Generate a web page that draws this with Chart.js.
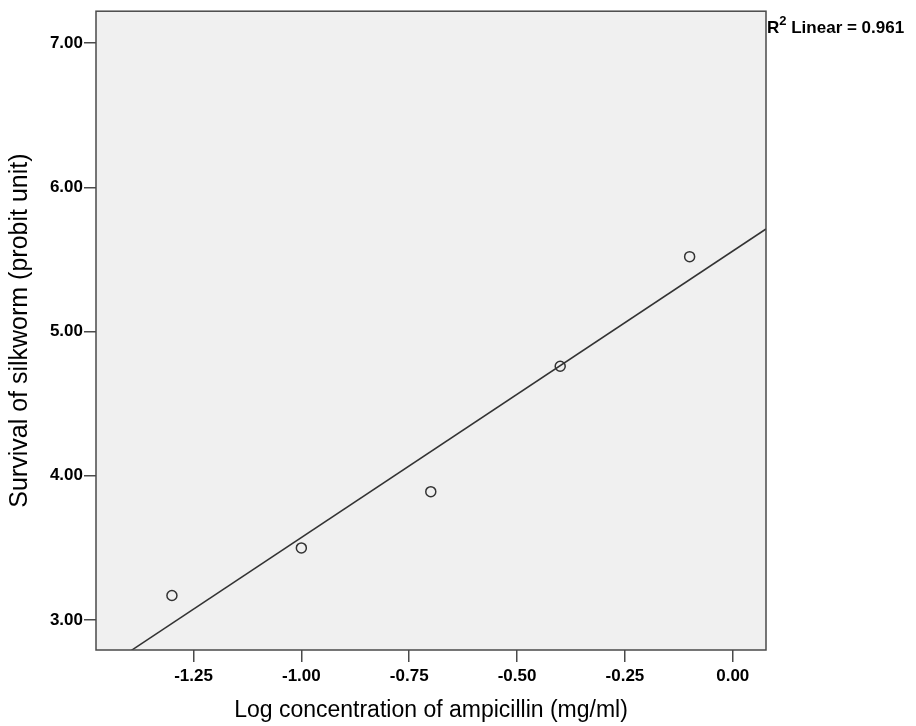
<!DOCTYPE html>
<html>
<head>
<meta charset="utf-8">
<script src="https://cdn.jsdelivr.net/npm/chart.js@4/dist/chart.umd.min.js"></script>
<style>
  html, body { margin: 0; padding: 0; background: #fff; }
  #wrap { width: 916px; height: 726px; }
</style>
</head>
<body>
<div id="wrap"><canvas id="probitChart" width="916" height="726"></canvas></div>
<script>
const logConc = [-1.30, -1.00, -0.70, -0.40, -0.10];
const probit = [3.17, 3.50, 3.89, 4.76, 5.52];
const xTicks = [-1.25, -1.00, -0.75, -0.50, -0.25, 0.00];
const yTicks = [3.00, 4.00, 5.00, 6.00, 7.00];
const xRange = [-1.476, 0.077];
const yRange = [2.792, 7.222];
const rSquaredLabel = "R\u00b2 Linear = 0.961";

// least squares fit line, as in the original output
const n = logConc.length;
const mx = logConc.reduce((a, b) => a + b, 0) / n;
const my = probit.reduce((a, b) => a + b, 0) / n;
let sxy = 0, sxx = 0;
for (let i = 0; i < n; i++) {
  sxy += (logConc[i] - mx) * (probit[i] - my);
  sxx += (logConc[i] - mx) * (logConc[i] - mx);
}
const slope = sxy / sxx;
const intercept = my - slope * mx;
const fitLine = xRange.map(x => ({ x, y: intercept + slope * x }));

const FONT = "Arial, 'Liberation Sans', sans-serif";
const INK = "#333";

const plotFrame = {
  id: "plotFrame",
  beforeDraw(chart) {
    const { ctx, chartArea: a } = chart;
    ctx.save();
    ctx.fillStyle = "#f0f0f0";
    ctx.fillRect(a.left, a.top, a.right - a.left, a.bottom - a.top);
    ctx.restore();
  },
  afterDraw(chart) {
    const { ctx, chartArea: a } = chart;
    ctx.save();
    ctx.strokeStyle = "#4a4a4a";
    ctx.lineWidth = 1.5;
    ctx.strokeRect(a.left, a.top, a.right - a.left, a.bottom - a.top);
    // R squared note beside the top right corner
    const x0 = a.right + 1, base = 33;
    ctx.fillStyle = "#000";
    ctx.textBaseline = "alphabetic";
    ctx.font = "bold 17px " + FONT;
    ctx.fillText("R", x0, base);
    const rw = ctx.measureText("R").width;
    ctx.font = "bold 13px " + FONT;
    ctx.fillText("2", x0 + rw, base - 8);
    const sw = ctx.measureText("2").width;
    ctx.font = "bold 17px " + FONT;
    ctx.fillText(rSquaredLabel.slice(2), x0 + rw + sw, base);
    ctx.restore();
  }
};

const ctx = document.getElementById("probitChart").getContext("2d");
const chart = new Chart(ctx, {
  type: "scatter",
  data: {
    datasets: [{
      label: "Observed",
      data: logConc.map((x, i) => ({ x, y: probit[i] })),
      pointRadius: 5,
      pointBorderWidth: 1.5,
      pointBorderColor: INK,
      pointBackgroundColor: "rgba(0,0,0,0)",
      showLine: false
    }, {
      label: "Linear",
      data: fitLine,
      showLine: true,
      pointRadius: 0,
      borderColor: INK,
      borderWidth: 1.5
    }]
  },
  options: {
    responsive: false,
    animation: false,
    layout: { padding: { top: 11, right: 150, left: 0, bottom: 0 } },
    plugins: {
      legend: { display: false },
      tooltip: { enabled: false }
    },
    scales: {
      x: {
        type: "linear",
        min: xRange[0],
        max: xRange[1],
        afterBuildTicks: s => { s.ticks = xTicks.map(value => ({ value })); },
        afterFit: s => { s.height = 76; },
        grid: { drawOnChartArea: false, drawTicks: true, tickLength: 12, color: "#4a4a4a", lineWidth: 1.5 },
        border: { display: false },
        ticks: {
          color: "#000",
          font: { family: FONT, size: 17, weight: "bold" },
          padding: 4,
          maxRotation: 0,
          callback: v => v.toFixed(2)
        },
        title: {
          display: true,
          text: "Log concentration of ampicillin (mg/ml)",
          color: "#000",
          font: { family: FONT, size: 23 },
          padding: { top: 4, bottom: 2 }
        }
      },
      y: {
        type: "linear",
        min: yRange[0],
        max: yRange[1],
        afterBuildTicks: s => { s.ticks = yTicks.map(value => ({ value })); },
        afterFit: s => { s.width = 96; },
        grid: { drawOnChartArea: false, drawTicks: true, tickLength: 12, color: "#4a4a4a", lineWidth: 1.5 },
        border: { display: false },
        ticks: {
          color: "#000",
          font: { family: FONT, size: 17, weight: "bold" },
          padding: 1,
          callback: v => v.toFixed(2)
        },
        title: {
          display: true,
          text: "Survival of silkworm (probit unit)",
          color: "#000",
          font: { family: FONT, size: 25 },
          padding: { top: 5, bottom: 0 }
        }
      }
    }
  },
  plugins: [plotFrame]
});
</script>
</body>
</html>
